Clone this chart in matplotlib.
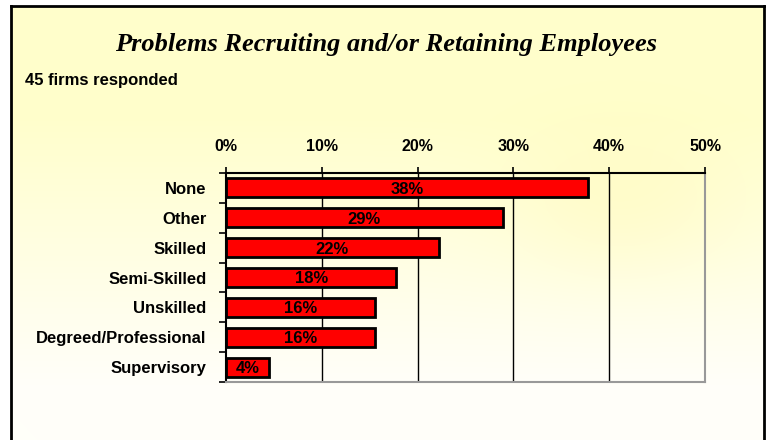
import numpy as np
import matplotlib.pyplot as plt
from matplotlib.lines import Line2D

# Survey answers (number of firms out of 45)
categories = ["None", "Other", "Skilled", "Semi-Skilled", "Unskilled",
              "Degreed/Professional", "Supervisory"]
firm_counts = [17, 13, 10, 8, 7, 7, 2]
total_firms = 45
x_ticks = [0, 10, 20, 30, 40, 50]

percents = [100 * c / total_firms for c in firm_counts]

W, H = 769, 440
fig = plt.figure(figsize=(W / 100, H / 100), dpi=100)

# pale yellow background fading to white, with a soft glow upper right
bg_ax = fig.add_axes([0, 0, 1, 1], zorder=-10)
yy, xx = np.mgrid[0:H, 0:W]
t = np.clip((yy - 120) / 270, 0, 1)
glow = np.exp(-(((xx - 620) / 120) ** 2 + ((yy - 195) / 80) ** 2))
img = np.ones((H, W, 3))
img[..., 2] = (204 + 46 * t * (1 - 0.5 * glow) - 8 * glow) / 255
img[..., 1] = (255 - 3 * glow) / 255
img[:, :11] = 1.0
img[:6, :] = 1.0
img[:, 764:] = 1.0
bg_ax.imshow(img, extent=[0, W, H, 0], aspect="auto")
bg_ax.set_xlim(0, W)
bg_ax.set_ylim(H, 0)
bg_ax.axis("off")

# frame around the slide
frame = dict(color="black", lw=2, transform=bg_ax.transData)
bg_ax.add_line(Line2D([11, 11], [6, H], **frame))
bg_ax.add_line(Line2D([11, 764], [6, 6], **frame))
bg_ax.add_line(Line2D([764, 764], [6, H], **frame))

fig.text(386 / W, 1 - 45 / H, "Problems Recruiting and/or Retaining Employees",
         family="Liberation Serif", style="italic", weight="bold",
         fontsize=19, ha="center", va="center")
fig.text(25 / W, 1 - 80 / H, "45 firms responded", family="Liberation Sans",
         weight="bold", fontsize=12, ha="left", va="center")

ax = fig.add_axes([226 / W, 1 - 382 / H, (705 - 226) / W, (382 - 173) / H])
ax.patch.set_alpha(0)

y = np.arange(len(categories))
ax.barh(y, percents, height=0.64, color="#ff0000", edgecolor="black",
        linewidth=2, zorder=3)

for yi, p in zip(y, percents):
    ax.text(p / 2, yi + 0.05, f"{p:.0f}%", ha="center", va="center",
            family="Liberation Sans", weight="bold", fontsize=12, zorder=4)

for xt in x_ticks[1:-1]:
    ax.axvline(xt, color="black", lw=1, zorder=1)

ax.set_xlim(x_ticks[0], x_ticks[-1])
ax.set_ylim(len(categories) - 0.5, -0.5)

ax.xaxis.tick_top()
ax.set_xticks(x_ticks)
ax.set_xticklabels([f"{v}%" for v in x_ticks], family="Liberation Sans",
                   weight="bold", fontsize=11.5)
ax.tick_params(axis="x", length=4, width=1.2, pad=10)

ax.set_yticks(y)
ax.set_yticklabels(categories, family="Liberation Sans", weight="bold",
                   fontsize=12)
ax.set_yticks(np.arange(-0.5, len(categories), 1), minor=True)
ax.tick_params(axis="y", which="major", length=0, pad=14)
ax.tick_params(axis="y", which="minor", length=5, width=1.2)

ax.spines["top"].set_linewidth(1.5)
ax.spines["left"].set_linewidth(1.5)
ax.spines["right"].set_color("#999999")
ax.spines["bottom"].set_color("#999999")
ax.spines["right"].set_linewidth(1.5)
ax.spines["bottom"].set_linewidth(1.5)

fig.savefig("out.png", dpi=100)
